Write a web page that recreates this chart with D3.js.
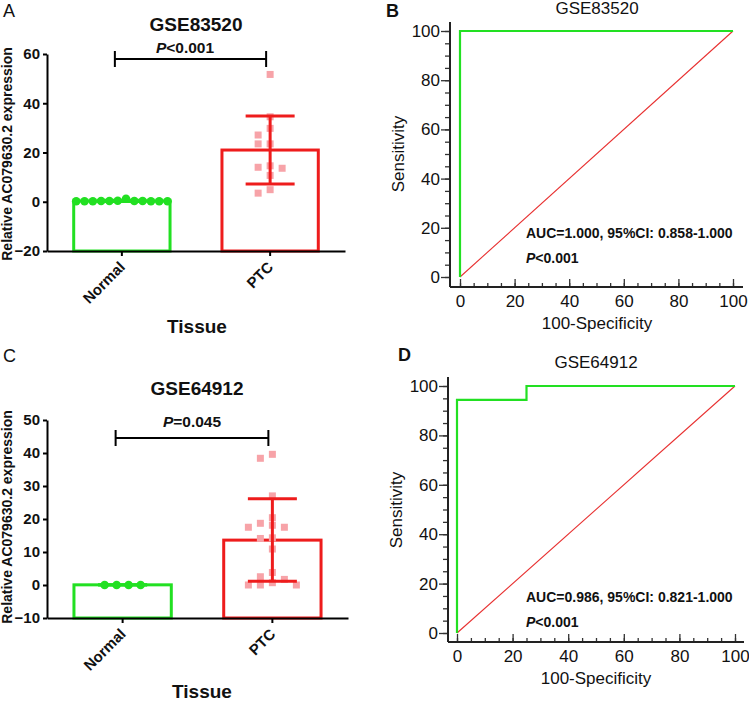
<!DOCTYPE html>
<html><head><meta charset="utf-8">
<script src="https://cdn.jsdelivr.net/npm/d3@7"></script>
<style>
body{margin:0;background:#fff}
svg{display:block}
text{font-family:"Liberation Sans",Arial,sans-serif;fill:#111}
</style>
</head><body>
<svg id="chart" width="749" height="703"></svg>
<script>
// ---------------- DATA ----------------
const categories = ["Normal", "PTC"];

// Panel A: GSE83520
const gse83520Normal = [1.2, 0.4, 0.3, 0.3, 0.3, 0.2, 0.2, 0.2, 0.2, 0.2, 0.2, 0.3];
const gse83520PTC = [51.7, 34.5, 29.8, 27.1, 23.5, 23.5, 14.6, 13.6, 14.0, 10.7, 4.9, 3.5];
const gse83520Mean = [0.35, 21.0];
const gse83520SD = [0.25, 13.8];
const gse83520Ticks = [-20, 0, 20, 40, 60];
const gse83520P = "<0.001";

// Panel C: GSE64912
const gse64912Normal = [0.0, 0.0, 0.0, 0.0];
const gse64912PTC = [39.6, 38.4, 27.0, 20.4, 18.7, 17.5, 17.5, 18.1, 14.3, 14.1, 10.9, 3.8, 1.7, 2.5, 0.0, 0.0, 0.0, 0.7];
const gse64912Mean = [0.05, 13.6];
const gse64912SD = [0.05, 12.5];
const gse64912Ticks = [-10, 0, 10, 20, 30, 40, 50];
const gse64912P = "=0.045";

// ROC curves (100-Specificity, Sensitivity)
const rocBFpr = [0, 0, 100];
const rocBTpr = [0, 100, 100];
const rocDFpr = [0, 0, 25, 25, 100];
const rocDTpr = [0, 94.4, 94.4, 100, 100];
const rocTicks = [0, 20, 40, 60, 80, 100];
const rocMinorTicks = d3.range(0, 101, 5);
const rocBText = "AUC=1.000, 95%CI: 0.858-1.000";
const rocDText = "AUC=0.986, 95%CI: 0.821-1.000";
const rocPText = "<0.001";

// ---------------- STYLE ----------------
const GREEN = "#22e022";
const RED = "#ee1c1c";
const PINK = "#f7a3a8";

const svg = d3.select("#chart");

// deterministic swarm offsets
function swarm(values, y, step, wColl, hColl) {
  const order = d3.range(values.length).sort((a, b) => values[b] - values[a]);
  const placed = [];
  const offs = new Array(values.length);
  for (const i of order) {
    const py = y(values[i]);
    for (let k = 0; k < 200; k++) {
      const off = (k % 2 === 1 ? -1 : 1) * Math.ceil(k / 2) * step;
      const hit = placed.some(p => Math.abs(p.y - py) < hColl && Math.abs(p.x - off) < wColl - 0.01);
      if (!hit) { placed.push({x: off, y: py}); offs[i] = off; break; }
    }
  }
  const mid = (d3.min(offs) + d3.max(offs)) / 2;
  return offs.map(o => o - mid);
}

function barPanel(cfg) {
  const g = svg.append("g");
  const y = d3.scaleLinear().domain(cfg.domain).range(cfg.yRange);
  const x = d3.scaleBand().domain(categories).range(cfg.xRange).paddingInner(0.33).paddingOuter(0.17);
  const base = y(cfg.domain[0]);
  const cx = c => x(c) + x.bandwidth() / 2;
  const colors = [GREEN, RED];

  // bars
  g.selectAll("rect.bar").data(categories).join("rect")
    .attr("x", c => x(c) + 1.5)
    .attr("width", x.bandwidth() - 3)
    .attr("y", (c, i) => y(cfg.mean[i]))
    .attr("height", (c, i) => base - y(cfg.mean[i]))
    .attr("fill", "#fff")
    .attr("stroke", (c, i) => colors[i])
    .attr("stroke-width", 3);

  // points normal (circles)
  const offN = swarm(cfg.normal, y, cfg.normalStep, cfg.normalStep, 8);
  g.selectAll("circle.pt").data(cfg.normal).join("circle")
    .attr("cx", (v, i) => cx("Normal") + offN[i])
    .attr("cy", v => y(v))
    .attr("r", 4.3)
    .attr("fill", GREEN);

  // points PTC (squares)
  const offP = swarm(cfg.ptc, y, 6, 11.5, 7);
  const s = 7;
  g.selectAll("rect.pt").data(cfg.ptc).join("rect")
    .attr("x", (v, i) => cx("PTC") + offP[i] - s / 2)
    .attr("y", v => y(v) - s / 2)
    .attr("width", s).attr("height", s)
    .attr("fill", PINK);

  // error bars
  categories.forEach((c, i) => {
    const m = cfg.mean[i], sd = cfg.sd[i];
    const eg = g.append("g").attr("stroke", colors[i]).attr("stroke-width", 3);
    eg.append("line").attr("x1", cx(c)).attr("x2", cx(c)).attr("y1", y(m - sd)).attr("y2", y(m + sd));
    [m - sd, m + sd].forEach(v => eg.append("line")
      .attr("x1", cx(c) - 24.5).attr("x2", cx(c) + 24.5).attr("y1", y(v)).attr("y2", y(v)));
  });

  // y axis
  const ya = g.append("g").attr("transform", `translate(${cfg.xRange[0]},0)`)
    .call(d3.axisLeft(y).tickValues(cfg.ticks).tickSize(4).tickPadding(3).tickSizeOuter(0));
  ya.select(".domain").attr("stroke", "#000").attr("stroke-width", 2);
  ya.selectAll(".tick line").attr("stroke", "#000").attr("stroke-width", 2);
  ya.selectAll(".tick text").attr("font-size", 15).attr("font-weight", "bold").attr("fill", "#111")
    .attr("font-family", "Liberation Sans, Arial, sans-serif");

  // x axis
  const xa = g.append("g").attr("transform", `translate(0,${base})`)
    .call(d3.axisBottom(x).tickSize(5).tickSizeOuter(0).tickFormat(""));
  xa.select(".domain").attr("stroke", "#000").attr("stroke-width", 2);
  xa.selectAll(".tick line").attr("stroke", "#000").attr("stroke-width", 2);

  categories.forEach(c => {
    g.append("text")
      .attr("transform", `translate(${cx(c) + 4},${base + 17}) rotate(-45)`)
      .attr("text-anchor", "end")
      .attr("font-size", 15).attr("font-weight", "bold")
      .text(c);
  });

  // y label
  g.append("text")
    .attr("transform", `translate(12,${cfg.yLabelY}) rotate(-90)`)
    .attr("text-anchor", "middle").attr("font-size", 14).attr("font-weight", "bold")
    .text("Relative AC079630.2  expression");

  // x title
  g.append("text").attr("x", cfg.tissueX).attr("y", cfg.tissueY)
    .attr("text-anchor", "middle").attr("font-size", 19).attr("font-weight", "bold")
    .text("Tissue");

  // title
  g.append("text").attr("x", cfg.titleX).attr("y", cfg.titleY)
    .attr("text-anchor", "middle").attr("font-size", 19).attr("font-weight", "bold")
    .text(cfg.title);

  // bracket
  const bx1 = cx("Normal") - 7, bx2 = cx("PTC") - 4, by = cfg.bracketY;
  g.append("path")
    .attr("d", `M${bx1},${by - 8}V${by + 8}M${bx1},${by}H${bx2}M${bx2},${by - 8}V${by + 8}`)
    .attr("stroke", "#000").attr("stroke-width", 2).attr("fill", "none");
  const pt = g.append("text").attr("x", cfg.pX).attr("y", cfg.pY)
    .attr("text-anchor", "middle").attr("font-size", 15.5).attr("font-weight", "bold");
  pt.append("tspan").attr("font-style", "italic").text("P");
  pt.append("tspan").text(cfg.pText);

  // panel letter
  g.append("text").attr("x", 3).attr("y", cfg.letterY)
    .attr("font-size", 18).text(cfg.letter);
}

function rocPanel(cfg) {
  const g = svg.append("g");
  const x = d3.scaleLinear().domain([0, 100]).range(cfg.xRange);
  const y = d3.scaleLinear().domain([0, 100]).range(cfg.yRange);
  const ax = cfg.axisX, ay = cfg.axisY;

  // diagonal
  g.append("line").attr("x1", x(0)).attr("y1", y(0)).attr("x2", x(100)).attr("y2", y(100))
    .attr("stroke", "#e83030").attr("stroke-width", 1.1);
  // ROC curve
  const line = d3.line().x(d => x(d[0])).y(d => y(d[1]));
  g.append("path").datum(cfg.fpr.map((f, i) => [f, cfg.tpr[i]]))
    .attr("d", line).attr("fill", "none").attr("stroke", GREEN).attr("stroke-width", 2.2);

  // y axis
  const yMinor = g.append("g").attr("transform", `translate(${ax},0)`)
    .call(d3.axisLeft(y).tickValues(rocMinorTicks).tickSize(5).tickFormat(""));
  yMinor.select(".domain").remove();
  const ya = g.append("g").attr("transform", `translate(${ax},0)`)
    .call(d3.axisLeft(y).tickValues(rocTicks).tickSize(9).tickPadding(1));
  ya.select(".domain").remove();
  g.append("line").attr("x1", ax).attr("x2", ax).attr("y1", cfg.axisTop).attr("y2", ay)
    .attr("stroke", "#222").attr("stroke-width", 2);

  // x axis
  const xMinor = g.append("g").attr("transform", `translate(0,${ay})`)
    .call(d3.axisBottom(x).tickValues(rocMinorTicks).tickSize(-4).tickFormat(""));
  xMinor.select(".domain").remove();
  const xa = g.append("g").attr("transform", `translate(0,${ay})`)
    .call(d3.axisBottom(x).tickValues(rocTicks).tickSize(-8).tickPadding(8));
  xa.select(".domain").remove();
  g.append("line").attr("x1", ax).attr("x2", cfg.axisRight).attr("y1", ay).attr("y2", ay)
    .attr("stroke", "#222").attr("stroke-width", 2);

  g.selectAll(".tick line").attr("stroke", "#333").attr("stroke-width", 1.3);
  g.selectAll(".tick text").attr("font-size", 17).attr("fill", "#111")
    .attr("font-family", "Liberation Sans, Arial, sans-serif");

  // labels
  g.append("text").attr("x", cfg.xTitleX).attr("y", cfg.xTitleY).attr("text-anchor", "middle")
    .attr("font-size", 17).text("100-Specificity");
  g.append("text").attr("transform", `translate(${cfg.yTitleX},${cfg.yTitleY}) rotate(-90)`)
    .attr("text-anchor", "middle").attr("font-size", 17).text("Sensitivity");
  g.append("text").attr("x", cfg.xTitleX).attr("y", cfg.titleY).attr("text-anchor", "middle")
    .attr("font-size", 17).text(cfg.title);

  g.append("text").attr("x", cfg.aucX).attr("y", cfg.aucY)
    .attr("font-size", 14).attr("font-weight", "bold").text(cfg.auc);
  const pt = g.append("text").attr("x", cfg.aucX).attr("y", cfg.aucY + 25)
    .attr("font-size", 14).attr("font-weight", "bold");
  pt.append("tspan").attr("font-style", "italic").text("P");
  pt.append("tspan").text(rocPText);

  g.append("text").attr("x", cfg.letterX).attr("y", cfg.letterY)
    .attr("font-size", 18).attr("font-weight", "bold").text(cfg.letter);
}

barPanel({
  letter: "A", letterY: 17,
  domain: [-20, 60], yRange: [251, 54], xRange: [47, 345],
  ticks: gse83520Ticks, normal: gse83520Normal, ptc: gse83520PTC,
  mean: gse83520Mean, sd: gse83520SD, normalStep: 8.3,
  title: "GSE83520", titleX: 196, titleY: 31,
  pText: gse83520P, pX: 185, pY: 53, bracketY: 59,
  yLabelY: 154, tissueX: 197, tissueY: 333
});

barPanel({
  letter: "C", letterY: 362,
  domain: [-10, 50], yRange: [618, 420], xRange: [47, 348],
  ticks: gse64912Ticks, normal: gse64912Normal, ptc: gse64912PTC,
  mean: gse64912Mean, sd: gse64912SD, normalStep: 12,
  title: "GSE64912", titleX: 197, titleY: 395,
  pText: gse64912P, pX: 192, pY: 427, bracketY: 438,
  yLabelY: 517, tissueX: 202, tissueY: 698
});

rocPanel({
  letter: "B", letterX: 386, letterY: 17,
  fpr: rocBFpr, tpr: rocBTpr,
  xRange: [460, 733], yRange: [277, 31], axisX: 450, axisY: 287, axisTop: 22, axisRight: 743,
  title: "GSE83520", titleY: 14, xTitleX: 597, xTitleY: 329, yTitleX: 404, yTitleY: 154,
  auc: rocBText, aucX: 526, aucY: 238
});

rocPanel({
  letter: "D", letterX: 398, letterY: 361,
  fpr: rocDFpr, tpr: rocDTpr,
  xRange: [457, 735], yRange: [633, 386], axisX: 448, axisY: 642, axisTop: 377, axisRight: 744,
  title: "GSE64912", titleY: 368, xTitleX: 596, xTitleY: 684, yTitleX: 402, yTitleY: 510,
  auc: rocDText, aucX: 526, aucY: 602
});
</script>
</body></html>
